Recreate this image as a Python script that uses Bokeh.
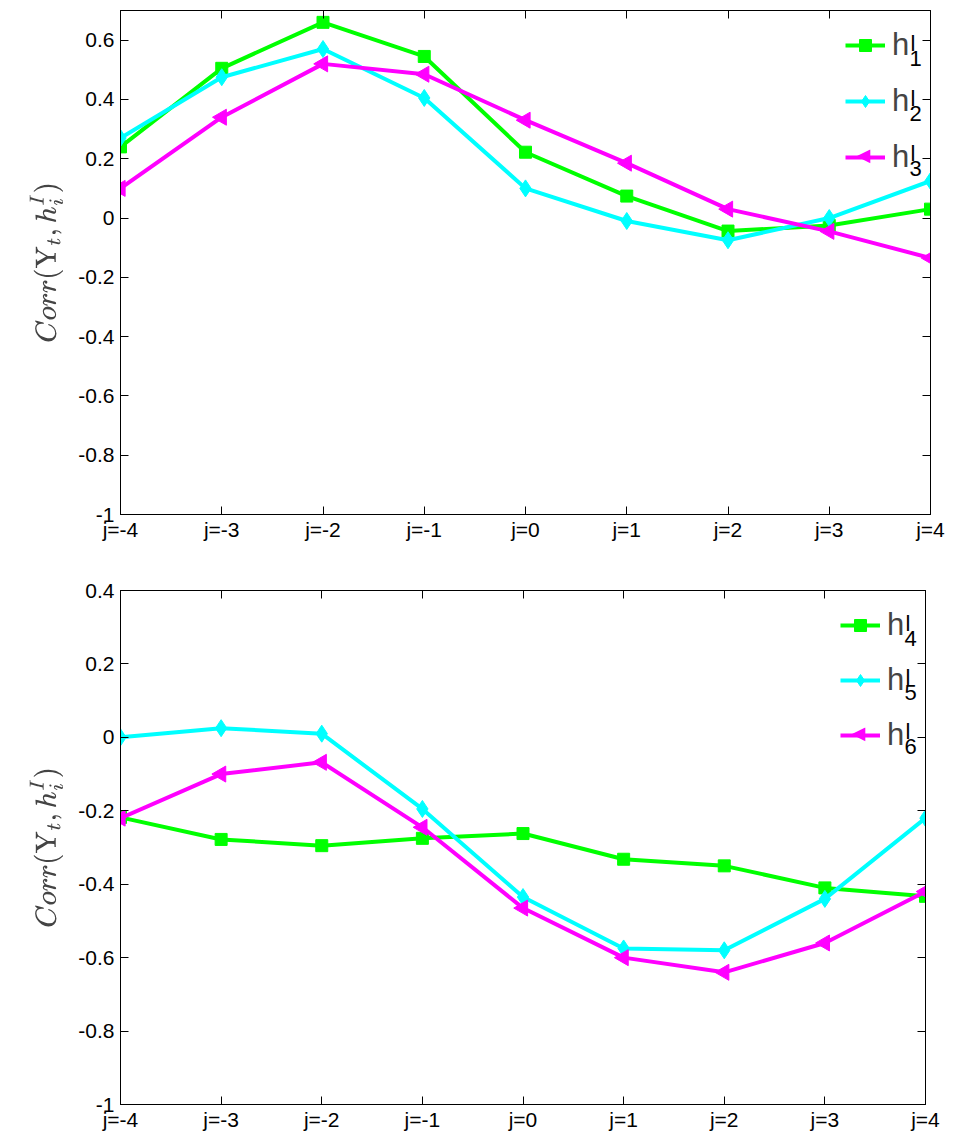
import math
from bokeh.plotting import figure
from bokeh.layouts import column
from bokeh.models import FixedTicker, LinearAxis, Legend, LegendItem, Range1d, Label
from bokeh.embed import file_html
from bokeh.resources import INLINE

lags = [-4, -3, -2, -1, 0, 1, 2, 3, 4]
lag_labels = ["j=-4", "j=-3", "j=-2", "j=-1", "j=0", "j=1", "j=2", "j=3", "j=4"]

h1 = [0.24, 0.505, 0.66, 0.545, 0.222, 0.074, -0.044, -0.025, 0.03]
h2 = [0.27, 0.475, 0.57, 0.405, 0.10, -0.01, -0.075, 0.0, 0.125]
h3 = [0.10, 0.34, 0.52, 0.485, 0.33, 0.185, 0.03, -0.045, -0.135]

h4 = [-0.218, -0.278, -0.295, -0.275, -0.262, -0.332, -0.35, -0.41, -0.433]
h5 = [0.0, 0.025, 0.01, -0.195, -0.435, -0.575, -0.58, -0.44, -0.22]
h6 = [-0.22, -0.10, -0.068, -0.245, -0.465, -0.60, -0.64, -0.56, -0.42]

top_subs = ["1", "2", "3"]
bot_subs = ["4", "5", "6"]

top_ticks = [-1, -0.8, -0.6, -0.4, -0.2, 0, 0.2, 0.4, 0.6]
bot_ticks = [-1, -0.8, -0.6, -0.4, -0.2, 0, 0.2, 0.4]

GREEN = "#00FF00"
CYAN = "#00FFFF"
MAGENTA = "#FF00FF"
FONT = "Liberation Sans"


def make_fig(series, subs, yr, yticks, width, height, bt, bb, pitch, spacing):
    p = figure(width=width, height=height, output_backend="svg", toolbar_location=None,
               x_range=Range1d(-4, 4), y_range=Range1d(*yr),
               min_border_left=120, min_border_right=16, min_border_top=bt,
               min_border_bottom=bb)
    p.xgrid.visible = False
    p.ygrid.visible = False
    p.outline_line_color = "black"
    p.outline_line_width = 1
    p.background_fill_color = "white"
    p.border_fill_color = "white"

    p.xaxis.ticker = FixedTicker(ticks=lags)
    p.xaxis.major_label_overrides = {k: v for k, v in zip(lags, lag_labels)}
    p.yaxis.ticker = FixedTicker(ticks=yticks)
    p.yaxis.major_label_overrides = {t: ("%g" % t) for t in yticks}
    for ax in (p.xaxis[0], p.yaxis[0]):
        ax.major_label_text_font = FONT
        ax.major_label_text_font_size = "21px"
        ax.major_label_text_color = "black"
        ax.major_tick_in = 8
        ax.major_tick_out = 0
        ax.minor_tick_line_color = None
        ax.axis_line_color = "black"
    p.xaxis.major_label_standoff = 3
    p.yaxis.major_label_standoff = 6
    p.yaxis.axis_label = r"$$Corr(\mathrm{Y}_t, h_i^I)$$"
    p.yaxis.axis_label_text_font_size = "23px"
    p.yaxis.axis_label_standoff = 12

    top_ax = LinearAxis(ticker=FixedTicker(ticks=lags),
                        major_label_overrides={k: "" for k in lags},
                        major_tick_in=8, major_tick_out=0, minor_tick_line_color=None,
                        axis_line_color="black", major_label_standoff=0)
    right_ax = LinearAxis(ticker=FixedTicker(ticks=yticks),
                          major_label_overrides={t: "" for t in yticks},
                          major_tick_in=8, major_tick_out=0, minor_tick_line_color=None,
                          axis_line_color="black", major_label_standoff=0)
    p.add_layout(top_ax, "above")
    p.add_layout(right_ax, "right")

    colors = [GREEN, CYAN, MAGENTA]
    markers = ["square", "diamond", "triangle"]
    sizes = [12, 17, 16]
    angles = [0, 0, math.pi / 2]
    items = []
    for i, (ys, c, m, s, a, sub) in enumerate(zip(series, colors, markers, sizes, angles, subs)):
        ln = p.line(lags, ys, line_color=c, line_width=4)
        sc = p.scatter(lags, ys, marker=m, size=s, angle=a, fill_color=c, line_color=c)
        rends = [ln, sc] if m != "triangle" else [ln]
        items.append(LegendItem(label="h", renderers=rends))
        # superscript / subscript of the legend label
        p.add_layout(Label(x=4, y=yr[1], x_offset=-20, y_offset=-(20 + i * pitch),
                           text="l", text_font=FONT, text_font_size="22px",
                           text_baseline="top", text_align="left", text_color="black"))
        p.add_layout(Label(x=4, y=yr[1], x_offset=-21, y_offset=-(40 + i * pitch),
                           text=sub, text_font=FONT, text_font_size="22px",
                           text_baseline="top", text_align="left", text_color="black"))
        if m == "triangle":
            p.add_layout(Label(x=4, y=yr[1], x_offset=-67, y_offset=-(34 + i * pitch),
                               text="◀", text_font="DejaVu Sans", text_font_size="18px",
                               text_baseline="middle", text_align="center", text_color=c))
    leg = Legend(items=items, location="top_right", border_line_color=None,
                 background_fill_alpha=0, label_text_font=FONT,
                 label_text_font_size="31px", glyph_width=40, glyph_height=30,
                 spacing=spacing, padding=12, margin=17, label_standoff=7,
                 label_height=30, label_width=21)
    p.add_layout(leg, "center")
    return p


p1 = make_fig([h1, h2, h3], top_subs, (-1, 0.7), top_ticks, 946, 558, 10, 44, 55, 20)
p2 = make_fig([h4, h5, h6], bot_subs, (-1, 0.4), bot_ticks, 941, 576, 32, 30, 54, 19)

layout = column(p1, p2, spacing=0)
open("out.html", "w").write(file_html(layout, INLINE))
